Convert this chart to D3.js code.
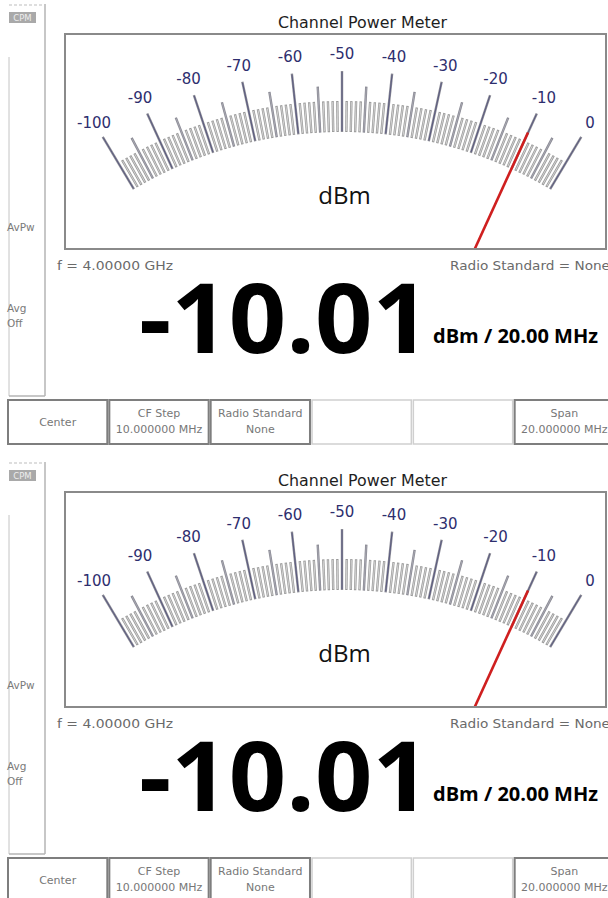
<!DOCTYPE html>
<html><head><meta charset="utf-8">
<script src="https://cdn.jsdelivr.net/npm/d3@7"></script>
<style>html,body{margin:0;padding:0;background:#fff;} svg{display:block}</style>
</head><body>
<svg id="c" width="608" height="898"></svg>
<script>
// ---- data ----
const panelTitles = ["Channel Power Meter", "Channel Power Meter"];
const readings = [-10.01, -10.01];
const scaleDomain = [-100, 0];
const majorTickValues = [-100, -90, -80, -70, -60, -50, -40, -30, -20, -10, 0];
const tickLabels = ["-100", "-90", "-80", "-70", "-60", "-50", "-40", "-30", "-20", "-10", "0"];
const unitLabel = "dBm";
const frequencyText = "f = 4.00000 GHz";
const radioStandardText = "Radio Standard = None";
const bandwidthText = "dBm / 20.00 MHz";
const modeLabel = "CPM";
const sideLabels = ["AvPw", "Avg", "Off"];
const softkeyLine1 = ["Center", "CF Step", "Radio Standard", "", "", "Span"];
const softkeyLine2 = ["", "10.000000 MHz", "None", "", "", "20.000000 MHz"];
const softkeyEnabled = [true, true, true, false, false, true];

// ---- drawing ----
const svg = d3.select("#c");
const panelStep = 458;
const cx = 342, cy = 539;
const angle = d3.scaleLinear().domain(scaleDomain).range([-30.75, 30.75]);
const keyBand = d3.scaleBand().domain(d3.range(softkeyLine1.length)).range([8, 614]).paddingInner(0.02);
const fmt = d3.formatLocale({decimal: ".", thousands: ",", grouping: [3], currency: ["", ""], minus: "-"}).format(".2f");
function polar(v, r) {
  const a = angle(v) * Math.PI / 180;
  return [cx + r * Math.sin(a), cy - r * Math.cos(a)];
}
const allTicks = d3.range(scaleDomain[0], scaleDomain[1] + 0.5, 1);
const tickType = v => (v % 10 === 0 ? "major" : (v % 5 === 0 ? "mid" : "minor"));
const outerR = {major: 468, mid: 453, minor: 438};
const innerR = 407;

readings.forEach((val, i) => {
  const g = svg.append("g").attr("transform", `translate(0,${i * panelStep})`);

  // sidebar
  g.append("line").attr("x1", 9).attr("x2", 44).attr("y1", 5).attr("y2", 5)
    .attr("stroke", "#bdbdbd").attr("stroke-width", 1).attr("stroke-dasharray", "3,2");
  g.append("rect").attr("x", 9).attr("y", 12).attr("width", 27).attr("height", 11).attr("fill", "#a9a9a9");
  g.append("text").attr("x", 22.5).attr("y", 21).attr("text-anchor", "middle")
    .attr("font-family", "DejaVu Sans").attr("font-size", 8.5).attr("fill", "#eeeeee").text(modeLabel);
  g.append("line").attr("x1", 45).attr("x2", 45).attr("y1", 4).attr("y2", 396)
    .attr("stroke", "#b4b4b4").attr("stroke-width", 1.5);
  g.append("line").attr("x1", 9).attr("x2", 9).attr("y1", 57).attr("y2", 396)
    .attr("stroke", "#c4c4c4").attr("stroke-width", 1);
  g.append("line").attr("x1", 9).attr("x2", 45).attr("y1", 396).attr("y2", 396)
    .attr("stroke", "#b4b4b4").attr("stroke-width", 1.5);
  const sideY = [231, 312, 327];
  sideLabels.forEach((t, k) => {
    g.append("text").attr("x", 7).attr("y", sideY[k]).attr("font-family", "DejaVu Sans")
      .attr("font-size", 10.5).attr("fill", "#7a7a7a").text(t);
  });

  // title
  g.append("text").attr("x", 278).attr("y", 28).attr("font-family", "DejaVu Sans")
    .attr("font-size", 15.5).attr("fill", "#1e1e1e").attr("textLength", 169)
    .attr("lengthAdjust", "spacingAndGlyphs").text(panelTitles[i]);

  // gauge box
  const clipId = "clip" + i;
  g.append("clipPath").attr("id", clipId).append("rect")
    .attr("x", 66).attr("y", 35).attr("width", 539).attr("height", 213);
  g.append("rect").attr("x", 65).attr("y", 34).attr("width", 541).attr("height", 215)
    .attr("fill", "#fff").attr("stroke", "#8a8a8a").attr("stroke-width", 2);

  const tg = g.append("g").attr("clip-path", `url(#${clipId})`);
  // tick outlines
  tg.selectAll("line.to").data(allTicks).join("line").attr("class", "to")
    .attr("x1", d => polar(d, innerR)[0]).attr("y1", d => polar(d, innerR)[1])
    .attr("x2", d => polar(d, outerR[tickType(d)])[0]).attr("y2", d => polar(d, outerR[tickType(d)])[1])
    .attr("stroke", d => tickType(d) === "minor" ? "#9a9a9a" : "#8a8a94")
    .attr("stroke-width", 2.4);
  // tick cores
  tg.selectAll("line.tc").data(allTicks).join("line").attr("class", "tc")
    .attr("x1", d => polar(d, innerR + 1)[0]).attr("y1", d => polar(d, innerR + 1)[1])
    .attr("x2", d => polar(d, outerR[tickType(d)] - 1)[0]).attr("y2", d => polar(d, outerR[tickType(d)] - 1)[1])
    .attr("stroke", d => tickType(d) === "major" ? "#4a4a7a" : (tickType(d) === "mid" ? "#b0b0ba" : "#ffffff"))
    .attr("stroke-width", d => tickType(d) === "minor" ? 0.55 : 0.75);
  // labels
  tg.selectAll("text.lbl").data(majorTickValues).join("text").attr("class", "lbl")
    .attr("x", d => polar(d, 485)[0]).attr("y", d => polar(d, 485)[1])
    .attr("dy", "0.36em").attr("text-anchor", "middle")
    .attr("font-family", "DejaVu Sans").attr("font-size", 15).attr("fill", "#2e2e6e")
    .text((d, k) => tickLabels[k]);
  // unit label
  tg.append("text").attr("x", 344.5).attr("y", 204).attr("text-anchor", "middle")
    .attr("font-family", "Open Sans").attr("font-size", 24).attr("fill", "#111").text(unitLabel);
  // needle
  tg.append("line")
    .attr("x1", polar(val, 0)[0]).attr("y1", polar(val, 0)[1])
    .attr("x2", polar(val, 447)[0]).attr("y2", polar(val, 447)[1])
    .attr("stroke", "#cf1f1f").attr("stroke-width", 2.6);

  // info texts
  g.append("text").attr("x", 57).attr("y", 269.5).attr("font-family", "DejaVu Sans")
    .attr("font-size", 13).attr("fill", "#6a6a6a").attr("textLength", 116)
    .attr("lengthAdjust", "spacingAndGlyphs").text(frequencyText);
  g.append("text").attr("x", 450).attr("y", 269.5).attr("font-family", "DejaVu Sans")
    .attr("font-size", 13).attr("fill", "#6a6a6a").attr("textLength", 160)
    .attr("lengthAdjust", "spacingAndGlyphs").text(radioStandardText);

  // big reading
  g.append("text").attr("x", 139).attr("y", 353).attr("font-family", "Open Sans")
    .attr("font-weight", 700).attr("font-size", 97).attr("fill", "#000")
    .attr("textLength", 291).attr("lengthAdjust", "spacingAndGlyphs").text(fmt(val));
  g.append("text").attr("x", 433).attr("y", 343).attr("font-family", "Open Sans")
    .attr("font-weight", 700).attr("font-size", 19.5).attr("fill", "#000")
    .attr("textLength", 165).attr("lengthAdjust", "spacingAndGlyphs").text(bandwidthText);

  // softkeys
  const keys = g.selectAll("g.key").data(d3.range(softkeyLine1.length)).join("g").attr("class", "key")
    .attr("transform", k => `translate(${keyBand(k)},400)`);
  keys.append("rect").attr("x", 0).attr("y", 0).attr("width", keyBand.bandwidth()).attr("height", 44)
    .attr("fill", "#fff").attr("stroke", k => softkeyEnabled[k] ? "#7e7e7e" : "#cfcfcf")
    .attr("stroke-width", k => softkeyEnabled[k] ? 2 : 1.5);
  keys.append("text").attr("x", keyBand.bandwidth() / 2)
    .attr("y", k => softkeyLine2[k] ? 13 : 22).attr("dy", "0.36em").attr("text-anchor", "middle")
    .attr("font-family", "DejaVu Sans").attr("font-size", 11).attr("fill", "#777")
    .text(k => softkeyLine1[k]);
  keys.append("text").attr("x", keyBand.bandwidth() / 2)
    .attr("y", 29).attr("dy", "0.36em").attr("text-anchor", "middle")
    .attr("font-family", "DejaVu Sans").attr("font-size", 11).attr("fill", "#777")
    .text(k => softkeyLine2[k]);
});
</script>
</body></html>
